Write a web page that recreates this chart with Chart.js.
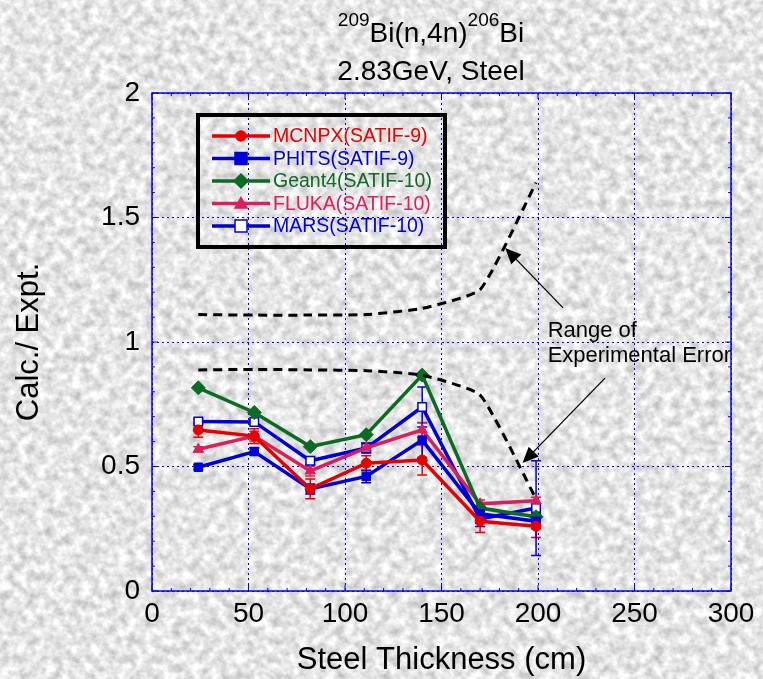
<!DOCTYPE html>
<html>
<head>
<meta charset="utf-8">
<script src="https://cdn.jsdelivr.net/npm/chart.js@4.4.1/dist/chart.umd.min.js"></script>
<style>
  html, body { margin: 0; padding: 0; }
  body { width: 763px; height: 679px; background-color: #e3e3e3; overflow: hidden; }
  #wrap { position: relative; width: 763px; height: 679px; }
</style>
</head>
<body>
<div id="wrap"><canvas id="ratioChart" width="763" height="679"></canvas></div>
<script>
// steel thickness (cm) of the sample positions
var thickness = [24, 53, 82, 111, 140, 170, 199];

// Calc./Expt. ratios
var mcnpx  = [0.647, 0.622, 0.410, 0.513, 0.526, 0.280, 0.260];
var phits  = [0.497, 0.560, 0.410, 0.460, 0.606, 0.310, 0.280];
var geant4 = [0.816, 0.717, 0.580, 0.628, 0.867, 0.333, 0.298];
var fluka  = [0.569, 0.622, 0.482, 0.575, 0.647, 0.350, 0.362];
var mars   = [0.681, 0.679, 0.523, 0.574, 0.739, 0.289, 0.333];

// half length of the error bars
var mcnpxErr = [0.030, 0.030, 0.040, 0.030, 0.060, 0.045, 0.045];
var phitsErr = [0.010, 0.015, 0.020, 0.025, 0.070, 0.030, 0.030];
var flukaErr = [0.010, 0.020, 0.020, 0.020, 0.030, 0.015, 0.015];
var marsErr  = [0.010, 0.010, 0.015, 0.020, 0.080, 0.030, 0.190];

// range of experimental error
var expUpper = [1.110, 1.108, 1.108, 1.110, 1.135, 1.210, 1.640];
var expLower = [0.888, 0.890, 0.888, 0.885, 0.867, 0.787, 0.370];

var xTicks = [0, 50, 100, 150, 200, 250, 300];
var yTicks = [0, 0.5, 1, 1.5, 2];

var FONT = '"Liberation Sans", Arial, Helvetica, sans-serif';

// marble paper background
(function () {
  var svg = "<svg xmlns='http://www.w3.org/2000/svg' width='763' height='679'>" +
    "<filter id='f' x='0' y='0' width='100%' height='100%' color-interpolation-filters='sRGB'>" +
    "<feTurbulence type='fractalNoise' baseFrequency='0.11' numOctaves='4' seed='7'/>" +
    "<feColorMatrix type='matrix' values='0.42 0 0 0 0.69  0.42 0 0 0 0.69  0.42 0 0 0 0.69  0 0 0 0 1'/>" +
    "</filter><rect width='763' height='679' filter='url(#f)'/></svg>";
  document.body.style.backgroundImage = 'url("data:image/svg+xml,' + encodeURIComponent(svg) + '")';
})();

function pts(ys) {
  return ys.map(function (y, i) { return {x: thickness[i], y: y}; });
}

function series(label, ys, err, color, style, radius, fill) {
  return {
    label: label,
    data: pts(ys),
    err: err,
    borderColor: color,
    backgroundColor: fill || color,
    pointBackgroundColor: fill || color,
    pointBorderColor: color,
    pointBorderWidth: fill ? 1.5 : 1,
    pointStyle: style,
    pointRadius: radius,
    borderWidth: 3.5,
    tension: 0
  };
}

function dashed(label, ys) {
  return {
    label: label,
    data: pts(ys),
    borderColor: '#000',
    borderWidth: 3,
    borderDash: [9, 6],
    pointRadius: 0,
    tension: 0.15,
    inLegend: false
  };
}

var datasets = [
  dashed('upper', expUpper),
  dashed('lower', expLower),
  series('MCNPX(SATIF-9)', mcnpx, mcnpxErr, '#e60000', 'circle', 5),
  series('PHITS(SATIF-9)', phits, phitsErr, '#0000dd', 'rect', 6),
  series('Geant4(SATIF-10)', geant4, null, '#0b6b22', 'rectRot', 7),
  series('FLUKA(SATIF-10)', fluka, flukaErr, '#dc1e5a', 'triangle', 6),
  series('MARS(SATIF-10)', mars, marsErr, '#0000dd', 'rect', 6, '#ffffff')
];

function marker(ctx, style, x, y, r, fill, stroke) {
  ctx.save();
  ctx.fillStyle = fill;
  ctx.strokeStyle = stroke;
  ctx.lineWidth = 1.5;
  ctx.beginPath();
  if (style === 'circle') {
    ctx.arc(x, y, r, 0, Math.PI * 2);
  } else if (style === 'rect') {
    ctx.rect(x - r, y - r, 2 * r, 2 * r);
  } else if (style === 'rectRot') {
    ctx.moveTo(x, y - r); ctx.lineTo(x + r, y); ctx.lineTo(x, y + r); ctx.lineTo(x - r, y);
    ctx.closePath();
  } else if (style === 'triangle') {
    ctx.moveTo(x, y - r); ctx.lineTo(x + r, y + r * 0.75); ctx.lineTo(x - r, y + r * 0.75);
    ctx.closePath();
  }
  ctx.fill();
  ctx.stroke();
  ctx.restore();
}

// plot frame, tick marks and error bars
var framePlugin = {
  id: 'frame',
  beforeDatasetsDraw: function (chart) {
    var ctx = chart.ctx, a = chart.chartArea;
    var xs = chart.scales.x, ys = chart.scales.y;
    ctx.save();
    ctx.strokeStyle = '#0000ff';
    ctx.lineWidth = 1.5;
    ctx.strokeRect(a.left, a.top, a.right - a.left, a.bottom - a.top);
    ctx.lineWidth = 1;
    ctx.beginPath();
    for (var v = 0; v <= 2.0001; v += 0.1) {
      var py = ys.getPixelForValue(v);
      var len = Math.abs(v * 2 - Math.round(v * 2)) < 0.01 ? 6 : 3;
      ctx.moveTo(a.left, py); ctx.lineTo(a.left + len, py);
      ctx.moveTo(a.right, py); ctx.lineTo(a.right - len, py);
    }
    for (var t = 0; t <= 300; t += 10) {
      var px = xs.getPixelForValue(t);
      var l2 = t % 50 === 0 ? 6 : 3;
      ctx.moveTo(px, a.bottom); ctx.lineTo(px, a.bottom - l2);
      ctx.moveTo(px, a.top); ctx.lineTo(px, a.top + l2);
    }
    ctx.stroke();
    ctx.restore();

    chart.data.datasets.forEach(function (ds) {
      if (!ds.err) return;
      ctx.save();
      ctx.strokeStyle = ds.borderColor;
      ctx.lineWidth = 1.5;
      ds.data.forEach(function (p, i) {
        var e = ds.err[i];
        if (!e) return;
        var x = xs.getPixelForValue(p.x);
        var y1 = ys.getPixelForValue(p.y + e), y2 = ys.getPixelForValue(p.y - e);
        ctx.beginPath();
        ctx.moveTo(x, y1); ctx.lineTo(x, y2);
        ctx.moveTo(x - 5, y1); ctx.lineTo(x + 5, y1);
        ctx.moveTo(x - 5, y2); ctx.lineTo(x + 5, y2);
        ctx.stroke();
      });
      ctx.restore();
    });
  }
};

function arrow(ctx, x1, y1, x2, y2) {
  var ang = Math.atan2(y2 - y1, x2 - x1), L = 16, W = 7;
  ctx.beginPath();
  ctx.moveTo(x1, y1);
  ctx.lineTo(x2 - Math.cos(ang) * L * 0.8, y2 - Math.sin(ang) * L * 0.8);
  ctx.stroke();
  ctx.beginPath();
  ctx.moveTo(x2, y2);
  ctx.lineTo(x2 - Math.cos(ang) * L - Math.sin(ang) * W, y2 - Math.sin(ang) * L + Math.cos(ang) * W);
  ctx.lineTo(x2 - Math.cos(ang) * L + Math.sin(ang) * W, y2 - Math.sin(ang) * L - Math.cos(ang) * W);
  ctx.closePath();
  ctx.fill();
}

// title, legend box and the error range annotation
var overlayPlugin = {
  id: 'overlay',
  afterDraw: function (chart) {
    var ctx = chart.ctx;
    var xs = chart.scales.x, ys = chart.scales.y;
    ctx.save();
    ctx.fillStyle = '#000';
    ctx.textBaseline = 'alphabetic';

    // title line 1 with superscripts
    var parts = [['209', 19, -16], ['Bi(n,4n)', 28, 0], ['206', 19, -16], ['Bi', 28, 0]];
    var w = 0;
    parts.forEach(function (p) { ctx.font = p[1] + 'px ' + FONT; p.w = ctx.measureText(p[0]).width; w += p.w; });
    var cx = 431 - w / 2;
    parts.forEach(function (p) {
      ctx.font = p[1] + 'px ' + FONT;
      ctx.fillText(p[0], cx, 42 + p[2]);
      cx += p.w;
    });
    ctx.font = '28px ' + FONT;
    ctx.textAlign = 'center';
    ctx.fillText('2.83GeV, Steel', 431, 80);

    // legend
    ctx.lineWidth = 4;
    ctx.strokeStyle = '#000';
    ctx.strokeRect(198, 115, 247, 132);
    ctx.textAlign = 'left';
    ctx.textBaseline = 'middle';
    ctx.font = '19.5px ' + FONT;
    var row = 0;
    chart.data.datasets.forEach(function (ds) {
      if (ds.inLegend === false) return;
      var y = 136 + row * 22.5;
      ctx.strokeStyle = ds.borderColor;
      ctx.lineWidth = 3.5;
      ctx.beginPath(); ctx.moveTo(212, y); ctx.lineTo(270, y); ctx.stroke();
      marker(ctx, ds.pointStyle, 241, y, ds.pointRadius, ds.pointBackgroundColor, ds.borderColor);
      ctx.fillStyle = ds.borderColor;
      ctx.fillText(ds.label, 273, y + 1);
      row++;
    });

    // annotation
    ctx.fillStyle = '#000';
    ctx.strokeStyle = '#000';
    ctx.lineWidth = 1.3;
    ctx.font = '22px ' + FONT;
    ctx.textBaseline = 'alphabetic';
    var tx = xs.getPixelForValue(205);
    ctx.fillText('Range of', tx, ys.getPixelForValue(1.02));
    ctx.fillText('Experimental Error', tx, ys.getPixelForValue(0.92));
    arrow(ctx, xs.getPixelForValue(213), ys.getPixelForValue(1.137),
               xs.getPixelForValue(183), ys.getPixelForValue(1.378));
    arrow(ctx, xs.getPixelForValue(234.7), ys.getPixelForValue(0.855),
               xs.getPixelForValue(192), ys.getPixelForValue(0.514));
    ctx.restore();
  }
};

var ctx = document.getElementById('ratioChart').getContext('2d');
var chart = new Chart(ctx, {
  type: 'line',
  data: { datasets: datasets },
  plugins: [framePlugin, overlayPlugin],
  options: {
    responsive: false,
    animation: false,
    layout: { padding: { top: 93, right: 32, left: 0, bottom: 0 } },
    plugins: { legend: { display: false }, tooltip: { enabled: false }, title: { display: false } },
    scales: {
      x: {
        type: 'linear',
        min: 0, max: 300,
        afterBuildTicks: function (s) { s.ticks = xTicks.map(function (v) { return {value: v}; }); },
        afterFit: function (s) { s.height = 88; },
        ticks: { color: '#000', font: { family: FONT, size: 28 }, padding: 6, maxRotation: 0,
                 callback: function (v) { return String(v); } },
        grid: { color: '#0000ff', lineWidth: 1, drawTicks: false },
        border: { display: false, dash: [2, 3] },
        title: { display: true, text: 'Steel Thickness (cm)', color: '#000',
                 font: { family: FONT, size: 31 }, padding: { top: 0, bottom: 0 } }
      },
      y: {
        type: 'linear',
        min: 0, max: 2,
        afterBuildTicks: function (s) { s.ticks = yTicks.map(function (v) { return {value: v}; }); },
        afterFit: function (s) { s.width = 152; },
        ticks: { color: '#000', font: { family: FONT, size: 28 }, padding: 12,
                 callback: function (v) { return String(v); } },
        grid: { color: '#0000ff', lineWidth: 1, drawTicks: false },
        border: { display: false, dash: [2, 3] },
        title: { display: true, text: 'Calc./ Expt.', color: '#000',
                 font: { family: FONT, size: 31 }, padding: { top: 11, bottom: 0 } }
      }
    }
  }
});
</script>
</body>
</html>
